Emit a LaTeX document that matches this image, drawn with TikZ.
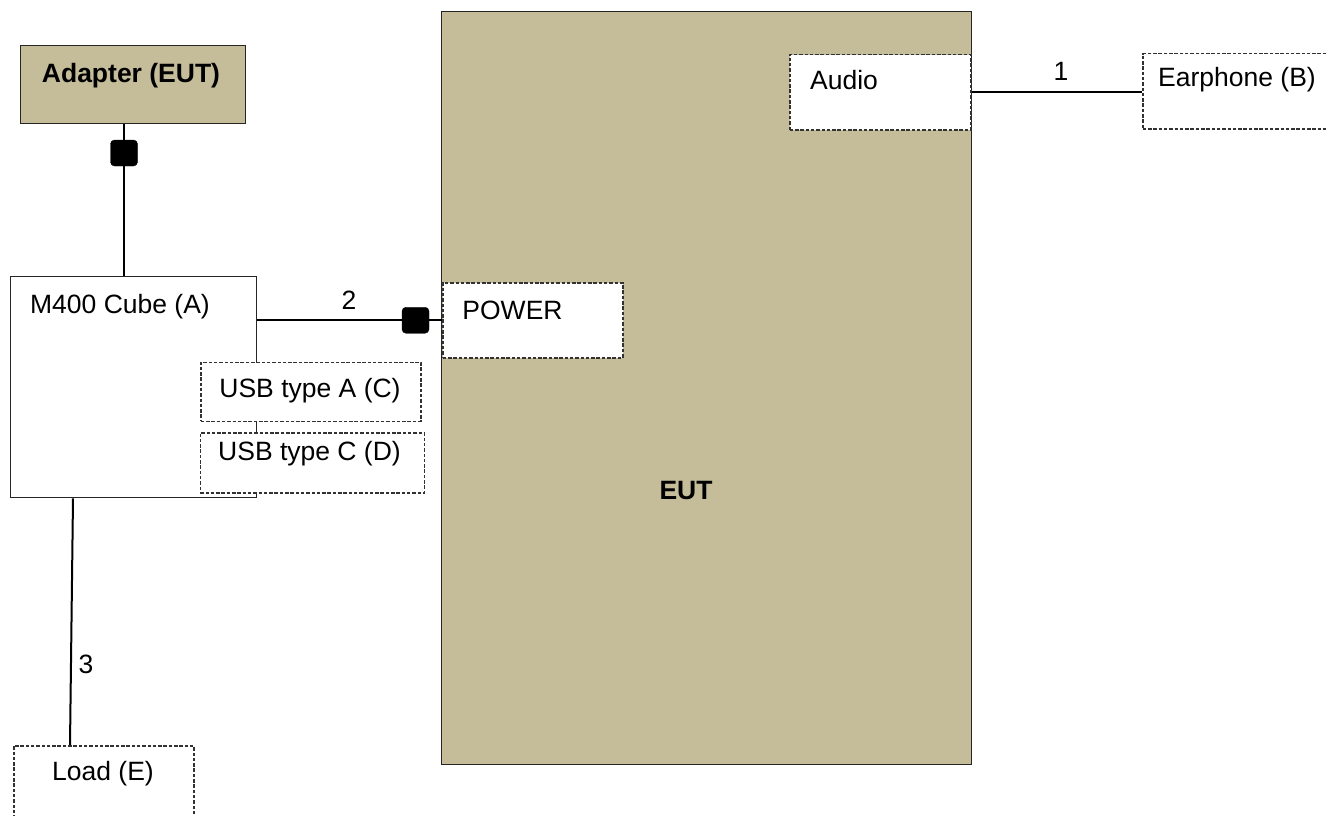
\documentclass[tikz,border=0pt]{standalone}
\usepackage{fontspec}
\setmainfont{Liberation Sans}
\usetikzlibrary{calc}
\definecolor{tan}{RGB}{197,189,153}
\definecolor{dashgray}{RGB}{50,50,50}
\tikzset{
  solidbox/.style={draw=black!85, line width=1.4pt, rectangle, inner sep=0pt},
  tanbox/.style={solidbox, fill=tan},
  dashbox/.style={draw=dashgray, line width=1.5pt, dash pattern=on 3.5pt off 1.8pt, fill=white, rectangle, inner sep=0pt},
  plug/.style={fill=black, draw=black, rounded corners=4pt, minimum width=27pt, minimum height=26pt, inner sep=0pt},
  wire/.style={draw=black, line width=2pt},
  lbl/.style={anchor=base, inner sep=0pt, font=\fontsize{26.5}{30}\selectfont},
  blbl/.style={lbl, font=\fontsize{26.5}{30}\selectfont\bfseries},
}
\begin{document}
\begin{tikzpicture}[x=1pt,y=-1pt]
\clip (0,0) rectangle (1328,816);
\fill[white] (0,0) rectangle (1328,816);
% boxes
\node[tanbox, minimum width=530pt, minimum height=753pt, anchor=north west] (eut) at (441,11) {};
\node[dashbox, minimum width=180pt, minimum height=75pt, anchor=north west] (power) at (442,282) {};
\node[dashbox, minimum width=181pt, minimum height=75pt, anchor=north west] (audio) at (789,54) {};
\node[dashbox, minimum width=200pt, minimum height=75pt, anchor=north west] (earphone) at (1142,53) {};
\node[tanbox, minimum width=225pt, minimum height=78pt, anchor=north west] (adapter) at (20,45) {};
\node[solidbox, fill=white, minimum width=246pt, minimum height=221pt, anchor=north west] (m400) at (10,276) {};
\node[dashbox, minimum width=220pt, minimum height=59pt, anchor=north west] (usba) at (200,361.5) {};
\node[dashbox, minimum width=224pt, minimum height=60pt, anchor=north west] (usbc) at (199.5,432) {};
\node[dashbox, minimum width=180pt, minimum height=90pt, anchor=north west] (load) at (13,745) {};
% plugs
\node[plug] (plugA) at (124,153) {};
\node[plug] (plugB) at ($(power.west)+(-26.5,0)$) {};
% wires
\draw[wire] (plugA |- adapter.south) -- (plugA);
\draw[wire] (plugA) -- (plugA |- m400.north);
\draw[wire] (power.west -| m400.east) -- (plugB);
\draw[wire] (plugB) -- (power.west);
\draw[wire] (audio.east -| eut.east) -- (audio.east -| earphone.west);
\draw[wire] ($(m400.south west)+(63,0)$) coordinate (w3a) -- ($(load.north west)+(57,0)$) coordinate (w3b);
% labels
\node[blbl] (tadapter) at (131,82) {Adapter (EUT)};
\node[lbl] (tm400) at (120,313) {M400 Cube (A)};
\node[lbl] (t2) at (349,309) {2};
\node[lbl] (tpower) at (512.5,319) {POWER};
\node[lbl] (tusba) at (310,397) {USB type A (C)};
\node[lbl] (tusbc) at (309.5,460) {USB type C (D)};
\node[lbl] (taudio) at (844,89) {Audio};
\node[lbl] (t1) at (1061,81) {1};
\node[lbl] (tear) at (1237,87) {Earphone (B)};
\node[lbl] (tload) at (103,780) {Load (E)};
\node[lbl] (t3) at (86,673) {3};
\node[blbl] (teut) at (686,499) {EUT};
\end{tikzpicture}
\end{document}
